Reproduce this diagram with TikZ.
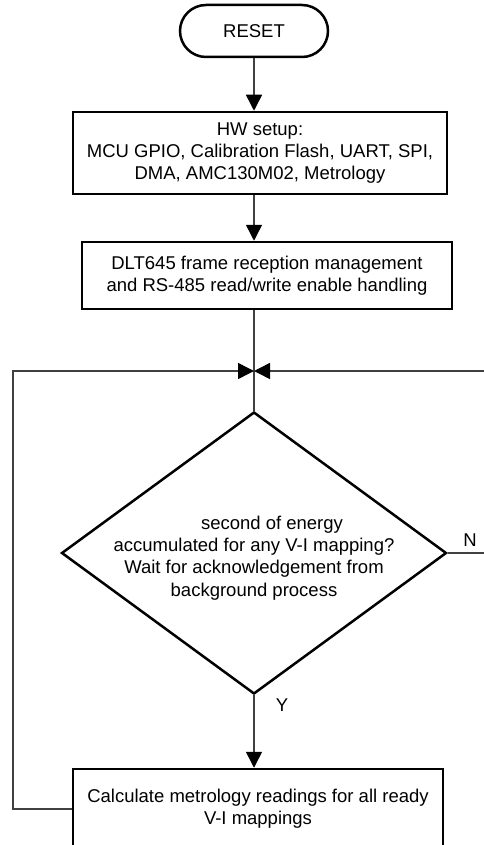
\documentclass[tikz,border=0pt]{standalone}
\usepackage{fontspec}
\setmainfont{Liberation Sans}
\usetikzlibrary{shapes.geometric,shapes.misc,arrows.meta}
\begin{document}
\begin{tikzpicture}[x=1pt,y=-1pt,
	txt/.style={font=\fontsize{18.5}{22.3}\selectfont,align=center,inner sep=0pt},
	box/.style={txt,draw,line width=2.5pt},
	wire/.style={line width=1.5pt,draw=black!75},
	tip/.style={wire,-{Triangle[length=16pt,width=16pt,black]}}]
	%reset loop flow
	\useasboundingbox (0,0) rectangle (484,845);
	\node [box,rounded rectangle,minimum width=148pt,minimum height=52pt] (reset) at (254,31) {RESET};
	\node [box,minimum width=374pt,minimum height=82pt] (hw) at (260,153)
		{HW setup:\\MCU GPIO, Calibration Flash, UART, SPI,\\DMA, AMC130M02, Metrology};
	\node [box,minimum width=370pt,minimum height=67pt] (dlt) at (267,275.5)
		{DLT645 frame reception management\\and RS-485 read/write enable handling};
	\node [box,diamond,minimum width=385pt,minimum height=282pt] (dec) at (254,553) {};
	\node [txt] (dectext) at (254,558)
		{\hspace*{36pt}second of energy\\accumulated for any V-I mapping?\\Wait for acknowledgement from\\background process};
	\node [box,minimum width=370pt,minimum height=80pt] (calc) at (258,809)
		{Calculate metrology readings for all ready\\V-I mappings};
	\node [txt] (nlab) at (470,540) {N};
	\node [txt] (ylab) at (282,705) {Y};
	\coordinate (join) at (254,371);
	\coordinate (lft) at (13,371);
	\coordinate (rgt) at (488,371);
	\draw [tip] (reset.south) -- (reset.south |- hw.north);
	\draw [tip] (reset.south |- hw.south) -- (reset.south |- dlt.north);
	\draw [wire] (reset.south |- dlt.south) -- (dec.north);
	\draw [tip] (calc.west) -| (lft) -- (join);
	\draw [tip] (dec.east) -| (rgt) -- (join);
	\draw [tip] (dec.south) -- (dec.south |- calc.north);
\end{tikzpicture}
\end{document}
